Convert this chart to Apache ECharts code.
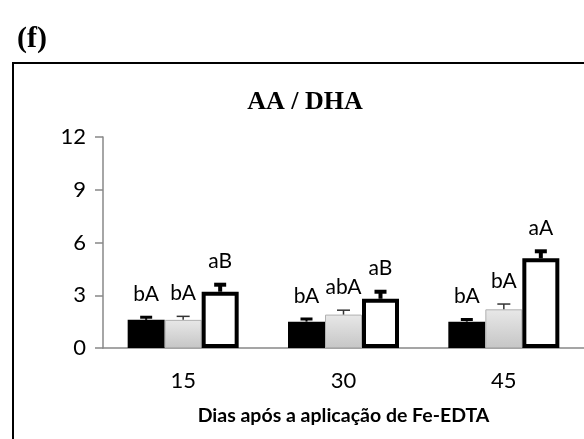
<!DOCTYPE html>
<html>
<head>
<meta charset="utf-8">
<script src="https://cdn.jsdelivr.net/npm/echarts@6/dist/echarts.min.js"></script>
<style>
  html, body { margin: 0; padding: 0; background: #fff; }
  #chart { width: 584px; height: 439px; }
</style>
</head>
<body>
<div id="chart"></div>
<script>
// Days after Fe-EDTA application
const days = ['15', '30', '45'];
const yTicks = [0, 3, 6, 9, 12];

// AA / DHA ratio per treatment (mean) and its error
const blackVals = [1.6, 1.5, 1.5];
const blackErr  = [0.15, 0.15, 0.12];
const grayVals  = [1.6, 1.9, 2.2];
const grayErr   = [0.2, 0.25, 0.3];
const whiteVals = [3.2, 2.8, 5.1];
const whiteErr  = [0.4, 0.4, 0.4];

// Significance letters
const blackLetters = ['bA', 'bA', 'bA'];
const grayLetters  = ['bA', 'abA', 'bA'];
const whiteLetters = ['aB', 'aB', 'aA'];

const BAR_W = 37;
const LABEL_FONT = 'Lato, "Open Sans", sans-serif';

const chart = echarts.init(document.getElementById('chart'), null, { renderer: 'canvas' });

// Error bar + letter drawn above each bar; slot -1/0/+1 picks the bar within the group
function errorSeries(vals, errs, letters, slot, style) {
  return {
    type: 'custom',
    xAxisIndex: 0,
    yAxisIndex: 0,
    z: 5,
    data: vals.map((v, i) => [i, v, errs[i]]),
    renderItem: function (params, api) {
      const v = api.value(1), e = api.value(2);
      const base = api.coord([api.value(0), v]);
      const top = api.coord([api.value(0), v + e]);
      const x = base[0] + slot * BAR_W;
      const half = style.cap / 2;
      return {
        type: 'group',
        children: [
          { type: 'line', shape: { x1: x, y1: base[1], x2: x, y2: top[1] },
            style: { stroke: style.color, lineWidth: style.stem } },
          { type: 'line', shape: { x1: x - half, y1: top[1], x2: x + half, y2: top[1] },
            style: { stroke: style.color, lineWidth: style.capW } },
          { type: 'text', x: x, y: top[1] - 23,
            style: { text: letters[params.dataIndex], fill: '#000',
                     fontSize: 21, fontFamily: LABEL_FONT,
                     align: 'center', verticalAlign: 'middle' } }
        ]
      };
    }
  };
}

const option = {
  animation: false,
  backgroundColor: '#fff',
  title: [
    { text: '(f)', left: 12, top: 19,
      textStyle: { fontFamily: '"Liberation Serif", serif', fontWeight: 'bold', fontSize: 30, color: '#000' } },
    { text: 'AA / DHA', left: 300, top: 84, textAlign: 'center',
      textStyle: { fontFamily: '"Liberation Serif", serif', fontWeight: 'bold', fontSize: 26, color: '#000' } }
  ],
  graphic: [
    { type: 'rect', z: -1, silent: true,
      shape: { x: 13, y: 63, width: 640, height: 440 },
      style: { fill: 'none', stroke: '#000', lineWidth: 2 } }
  ],
  grid: { left: 103, top: 137, width: 486, height: 211 },
  xAxis: {
    type: 'category', data: days,
    name: 'Dias após a aplicação de Fe-EDTA', nameLocation: 'middle', nameGap: 58,
    nameTextStyle: { fontFamily: LABEL_FONT, fontWeight: 'bold', fontSize: 19.5, color: '#000' },
    axisLine: { lineStyle: { color: '#888', width: 1.5 } },
    axisTick: { show: false },
    axisLabel: { margin: 22, fontFamily: LABEL_FONT, fontSize: 22, color: '#000' }
  },
  yAxis: {
    type: 'value', min: yTicks[0], max: yTicks[yTicks.length - 1], interval: 3,
    axisLine: { show: true, lineStyle: { color: '#888', width: 1.5 } },
    axisTick: { show: true, inside: false, length: 8, lineStyle: { color: '#888', width: 1.5 } },
    splitLine: { show: false },
    axisLabel: { margin: 17, fontFamily: LABEL_FONT, fontSize: 22, color: '#000' }
  },
  series: [
    { name: 'preto', type: 'bar', data: blackVals,
      barWidth: BAR_W, barGap: '0%', z: 3,
      itemStyle: { color: '#000', borderColor: '#000', borderWidth: 2 } },
    { name: 'cinza', type: 'bar', data: grayVals,
      barWidth: BAR_W, barGap: '0%', z: 3,
      itemStyle: {
        color: new echarts.graphic.LinearGradient(0, 0, 0, 1, [
          { offset: 0, color: '#e8e8e8' }, { offset: 1, color: '#c6c6c6' }
        ]),
        borderColor: '#b0b0b0', borderWidth: 1 } },
    { name: 'branco', type: 'bar', data: whiteVals,
      barWidth: BAR_W, barGap: '0%', z: 3,
      itemStyle: { color: '#fff', borderColor: '#000', borderWidth: 4 } },
    errorSeries(blackVals, blackErr, blackLetters, -1, { color: '#000', stem: 2, capW: 3, cap: 12 }),
    errorSeries(grayVals, grayErr, grayLetters, 0, { color: '#333', stem: 1.5, capW: 1.5, cap: 13 }),
    errorSeries(whiteVals, whiteErr, whiteLetters, 1, { color: '#000', stem: 4, capW: 4, cap: 12 })
  ]
};

chart.setOption(option);
</script>
</body>
</html>
